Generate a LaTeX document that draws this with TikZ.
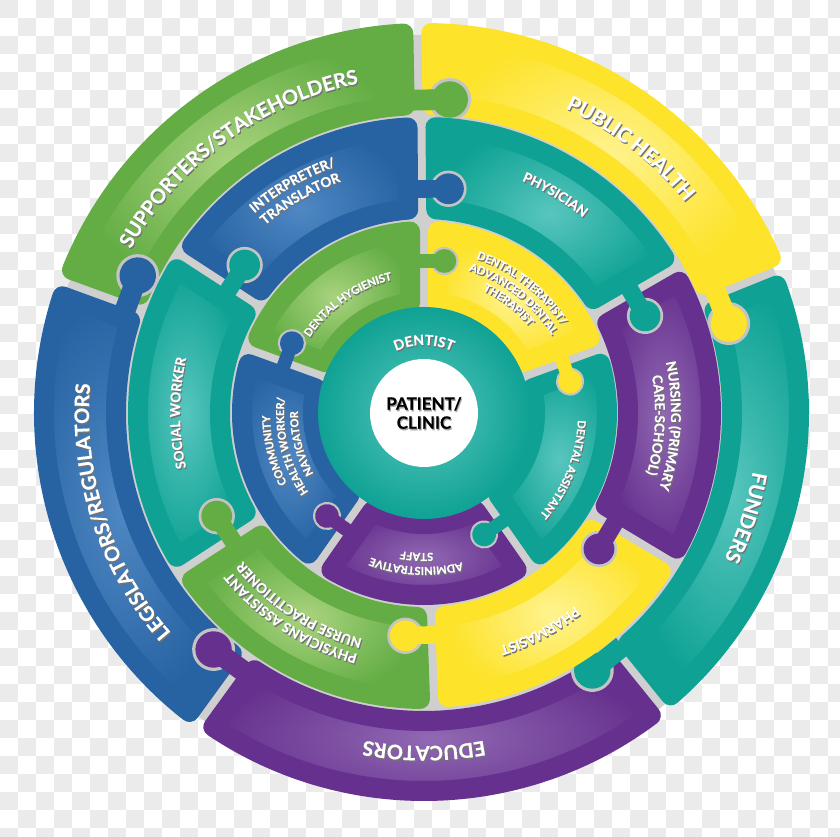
\documentclass[tikz,border=0pt]{standalone}
\usepackage{fontspec}
\setmainfont{Lato}[BoldFeatures={FakeBold=0.5}]
\usetikzlibrary{decorations.text}

\definecolor{pzgreen}{HTML}{63AD44}
\definecolor{pzgreenlt}{HTML}{A9D37E}
\definecolor{pzblue}{HTML}{2762A2}
\definecolor{pzbluelt}{HTML}{4F88C3}
\definecolor{pzteal}{HTML}{0FA294}
\definecolor{pzteallt}{HTML}{58C6BE}
\definecolor{pzyellow}{HTML}{FDE32A}
\definecolor{pzyellowlt}{HTML}{FFF390}
\definecolor{pzpurple}{HTML}{66318E}
\definecolor{pzpurplelt}{HTML}{9169B3}
\definecolor{checkgrey}{HTML}{EBEBEB}
\definecolor{seamgrey}{HTML}{CFCFCF}
\definecolor{knobrim}{HTML}{C4C4C4}

% annular piece: inner r, outer r, start angle, end angle, colour, light colour
\newcommand{\puzzlepiece}[6]{%
  \pgfmathsetmacro{\ppri}{#1+11}%
  \pgfmathsetmacro{\ppro}{#2-11}%
  \pgfmathsetmacro{\ppsi}{#3+14/\ppri*57.296}%
  \pgfmathsetmacro{\ppso}{#3+14/\ppro*57.296}%
  \pgfmathsetmacro{\ppei}{#4-14/\ppri*57.296}%
  \pgfmathsetmacro{\ppeo}{#4-14/\ppro*57.296}%
  \path[inner color=#6, outer color=#5, shade, draw=#5, line width=20pt, line join=round]
    (\ppsi:\ppri) -- (\ppso:\ppro) arc[start angle=\ppso, end angle=\ppeo, radius=\ppro]
    -- (\ppei:\ppri) arc[start angle=\ppei, end angle=\ppsi, radius=\ppri] -- cycle;}

% tab sticking clockwise over a seam: seam angle, radius, size, colour
\newcommand{\puzzleknob}[4]{%
  \begin{scope}[shift={(#1:#2)}, rotate=#1, scale=#3]
    \fill[knobrim] (0,-24) circle (16.5);
    \fill[#4] (-8,6) rectangle (8,-14);
    \fill[#4] (0,-24) circle (14);
  \end{scope}}

% curved label with drop shadow: centre angle, baseline radius, size, text
\newcommand{\wheellabel}[4]{%
  \foreach \lblcol/\lbldx/\lbldy in {black!55/1/-1.5, white/0/0}{%
    \path[shift={(\lbldx,\lbldy)}, decorate, decoration={text along path, text align=center,
      text={|\fontsize{#3}{#3}\selectfont\bfseries\color{\lblcol}|#4}}]
      ({#1+80}:#2) arc[start angle={#1+80}, end angle={#1-80}, radius=#2];}}

\begin{document}
\begin{tikzpicture}[x=1pt, y=1pt]
\useasboundingbox (-424,-424) rectangle (416,413);
\fill[white] (-424,-424) rectangle (416,413);
\foreach \row in {0,...,46}{\foreach \col in {0,...,46}{%
  \pgfmathtruncatemacro{\chk}{mod(\row+\col,2)}%
  \ifnum\chk=0 \fill[checkgrey] ({-424+18*\col},{413-18*\row}) rectangle ++(18,-18);\fi}}

% seams
\fill[seamgrey] (0,0) circle (378);

% outer ring
\puzzlepiece{297}{391}{91}{160}{pzgreen}{pzgreenlt}
\puzzlepiece{297}{391}{22}{91}{pzyellow}{pzyellowlt}
\puzzlepiece{297}{386}{-51}{22}{pzteal}{pzteallt}
\puzzlepiece{297}{389}{-126}{-51}{pzpurple}{pzpurplelt}
\puzzlepiece{297}{391}{160}{234}{pzblue}{pzbluelt}
\puzzleknob{91}{313}{1.3}{pzgreen}
\puzzleknob{160}{316}{1.3}{pzblue}
\puzzleknob{22}{316}{1.3}{pzyellow}
\puzzleknob{-51}{306}{1.3}{pzteal}
\puzzleknob{234}{315}{1.3}{pzpurple}

% middle ring
\puzzlepiece{193}{297}{90.5}{147}{pzblue}{pzbluelt}
\puzzlepiece{193}{297}{30}{90.5}{pzteal}{pzteallt}
\puzzlepiece{193}{298}{-31}{30}{pzpurple}{pzpurplelt}
\puzzlepiece{193}{296}{-88}{-31}{pzyellow}{pzyellowlt}
\puzzlepiece{193}{297}{213}{272}{pzgreen}{pzgreenlt}
\puzzlepiece{193}{297}{147}{213}{pzteal}{pzteallt}
\puzzleknob{90.5}{224}{1.1}{pzblue}
\puzzleknob{147}{231}{1.1}{pzteal}
\puzzleknob{30}{240}{1.1}{pzteal}
\puzzleknob{-31}{220}{1.1}{pzpurple}
\puzzleknob{-88}{222}{1.1}{pzyellow}
\puzzleknob{213}{230}{1.1}{pzgreen}

% inner ring
\puzzlepiece{100}{193}{90}{160}{pzgreen}{pzgreenlt}
\puzzlepiece{100}{193}{20}{90}{pzyellow}{pzyellowlt}
\puzzlepiece{100}{194}{-55}{20}{pzteal}{pzteallt}
\puzzlepiece{100}{193}{-125}{-55}{pzpurple}{pzpurplelt}
\puzzlepiece{100}{193}{160}{235}{pzblue}{pzbluelt}
\puzzleknob{90}{152}{0.85}{pzgreen}
\puzzleknob{160}{148}{0.85}{pzblue}
\puzzleknob{20}{148}{0.85}{pzyellow}
\puzzleknob{-55}{134}{0.85}{pzteal}
\puzzleknob{235}{140}{0.85}{pzpurple}

% core
\shade[inner color=pzteallt, outer color=pzteal] (0,0) circle (106);
\fill[white] (0,0) circle (54);

% labels
\wheellabel{126}{336}{20}{SUPPORTERS/STAKEHOLDERS}
\wheellabel{52}{336}{20}{PUBLIC HEALTH}
\wheellabel{-18}{334}{20}{FUNDERS}
\wheellabel{-90}{333}{20}{EDUCATORS}
\wheellabel{198}{335}{20}{LEGISLATORS/REGULATORS}

\wheellabel{120}{262}{13.5}{INTERPRETER/}
\wheellabel{120}{246}{13.5}{TRANSLATOR}
\wheellabel{59}{252}{13.5}{PHYSICIAN}
\wheellabel{-3}{247}{13.5}{NURSING (PRIMARY}
\wheellabel{-3}{231}{13.5}{CARE-SCHOOL)}
\wheellabel{-62}{245}{13.5}{PHARMASIST}
\wheellabel{237}{250}{13.5}{PHYSICIANS ASSISTANT}
\wheellabel{237}{234}{13.5}{NURSE PRACTITIONER}
\wheellabel{180}{244}{13.5}{SOCIAL WORKER}

\wheellabel{125}{137}{11}{DENTAL HYGIENIST}
\wheellabel{52}{163}{11}{DENTAL THERAPIST/}
\wheellabel{52}{149.5}{11}{ADVANCED DENTAL}
\wheellabel{52}{136}{11}{THERAPIST}
\wheellabel{-22}{154}{11}{DENTAL ASSISTANT}
\wheellabel{-93}{154}{11}{ADMINISTRATIVE}
\wheellabel{-93}{140}{11}{STAFF}
\wheellabel{194}{154}{11}{COMMUNITY}
\wheellabel{194}{140}{11}{HEALTH WORKER/}
\wheellabel{194}{126}{11}{NAVIGATOR}

\wheellabel{90}{68}{14}{DENTIST}

\node[font=\fontsize{17}{19}\selectfont\bfseries, align=center, text=black!35] (patientshadow) at (1,-1.5) {PATIENT/\\CLINIC};
\node[font=\fontsize{17}{19}\selectfont\bfseries, align=center] (patient) at (0,0) {PATIENT/\\CLINIC};
\end{tikzpicture}
\end{document}
